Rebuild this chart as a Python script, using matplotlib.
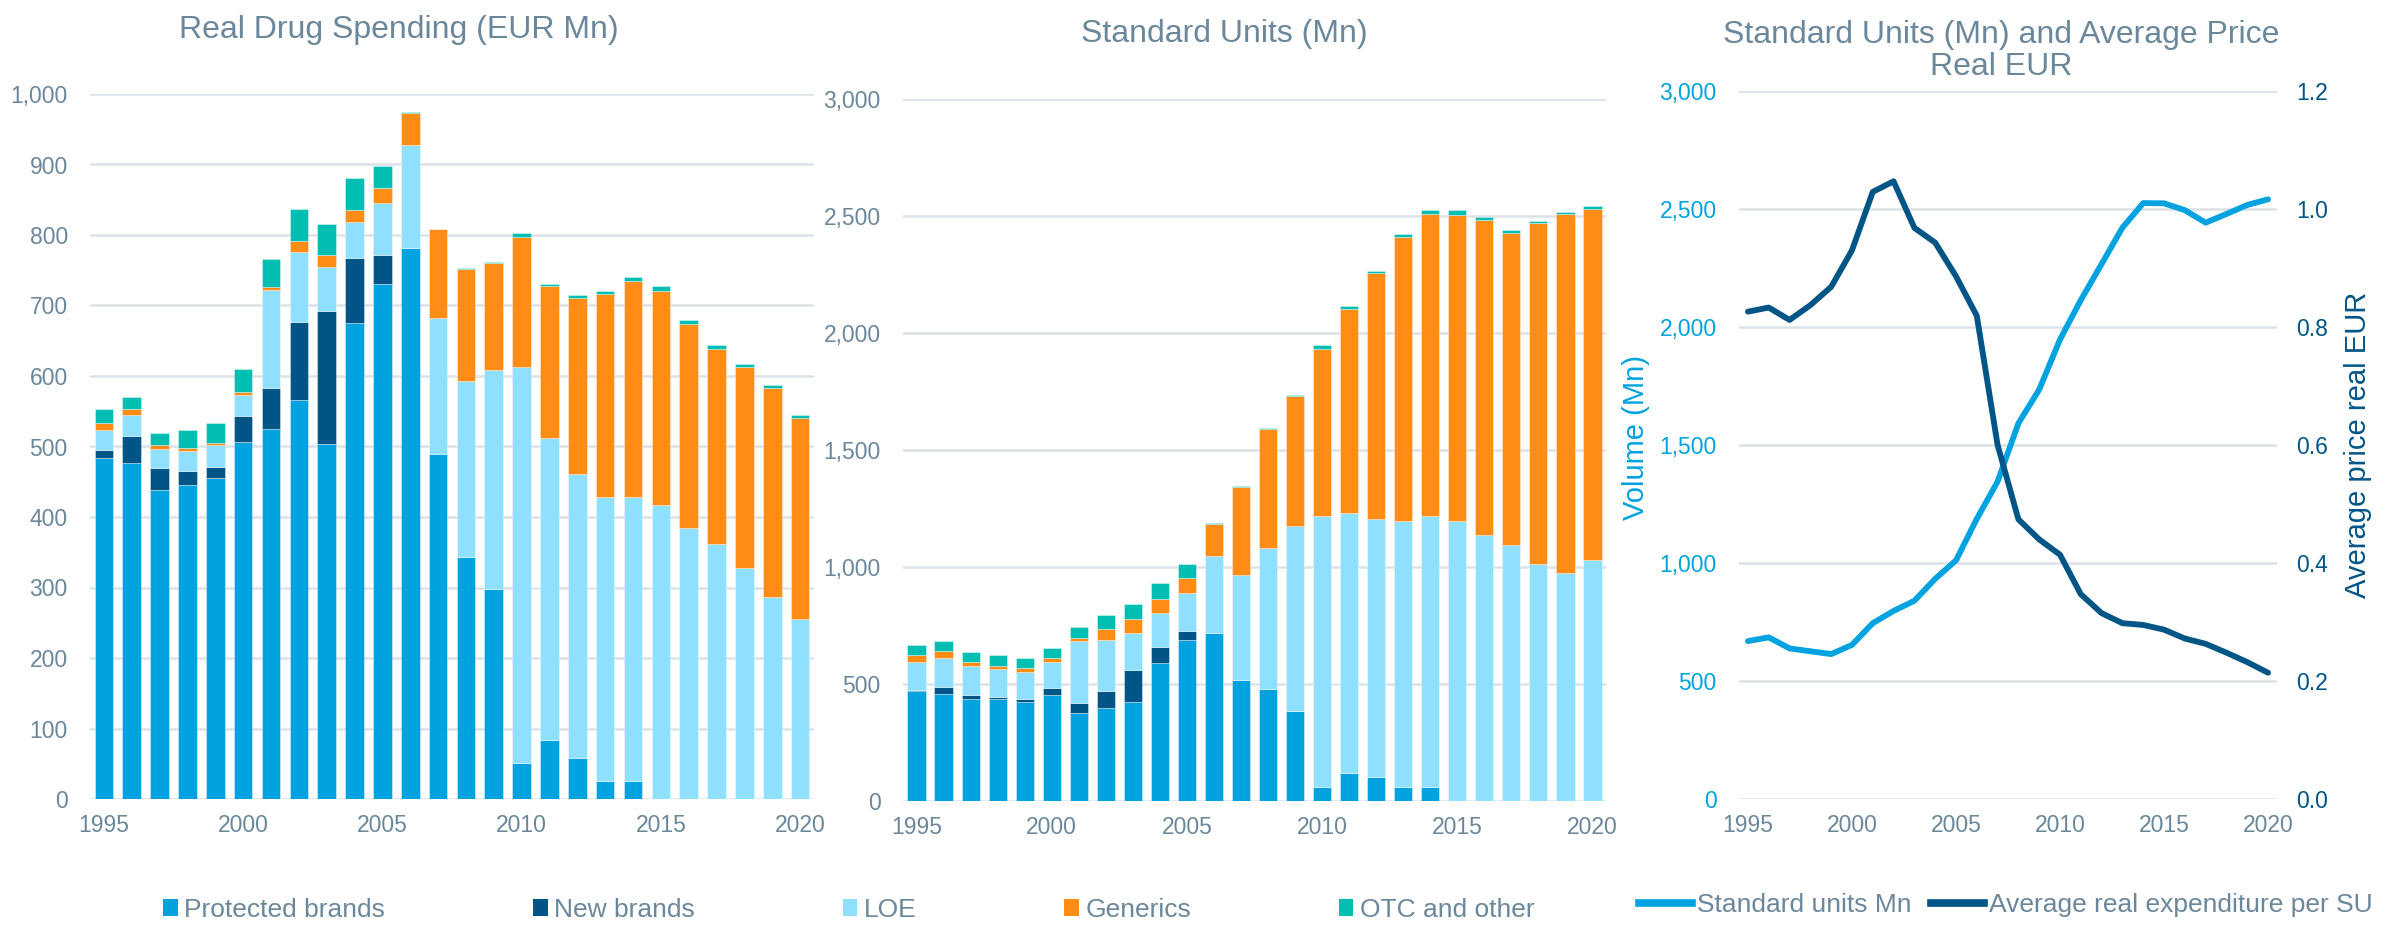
import matplotlib
matplotlib.use('Agg')
import matplotlib.pyplot as plt
import numpy as np
from matplotlib.patches import Patch
from matplotlib.lines import Line2D

plt.rcParams['font.family'] = ['Liberation Sans', 'DejaVu Sans']

years = list(range(1995, 2021))
tick_years = [1995, 2000, 2005, 2010, 2015, 2020]

# Real drug spending (EUR Mn)
spend_protected = [484, 477, 439, 445, 455, 506, 525, 566, 503, 675, 731, 782, 490, 343, 298,
                   51, 83, 58, 26, 25, 0, 0, 0, 0, 0, 0]
spend_new = [11, 38, 30, 20, 16, 37, 58, 111, 189, 93, 40, 0, 0, 0, 0,
             0, 0, 0, 0, 0, 0, 0, 0, 0, 0, 0]
spend_loe = [29, 30, 28, 29, 31, 30, 139, 99, 62, 50, 75, 146, 192, 250, 310,
             562, 429, 403, 403, 403, 417, 384, 361, 327, 286, 256]
spend_generics = [10, 8, 5, 4, 3, 4, 4, 16, 18, 17, 20, 45, 126, 159, 152,
                  184, 215, 250, 287, 307, 304, 290, 278, 286, 297, 284]
spend_otc = [19, 17, 17, 25, 28, 33, 40, 45, 44, 46, 32, 1, 1, 1, 1,
             6, 4, 4, 5, 6, 6, 6, 5, 4, 4, 4]

# Standard units (Mn)
su_protected = [469, 459, 434, 434, 425, 455, 377, 397, 421, 591, 686, 718, 516, 478, 384,
                61, 121, 104, 58, 58, 0, 0, 0, 0, 0, 0]
su_new = [6, 27, 21, 12, 9, 26, 42, 75, 137, 69, 39, 0, 0, 0, 0,
          0, 0, 0, 0, 0, 0, 0, 0, 0, 0, 0]
su_loe = [121, 127, 120, 116, 119, 115, 266, 218, 162, 145, 162, 328, 448, 605, 793,
          1159, 1109, 1099, 1137, 1159, 1198, 1136, 1094, 1011, 974, 1030]
su_generics = [26, 26, 21, 17, 15, 13, 13, 45, 56, 58, 67, 138, 377, 505, 555,
               712, 873, 1052, 1214, 1291, 1308, 1345, 1335, 1458, 1533, 1500]
su_otc = [46, 43, 42, 46, 44, 43, 45, 62, 64, 70, 57, 3, 4, 4, 3,
          15, 11, 12, 12, 17, 18, 14, 13, 10, 10, 11]

# Standard units line and average price per SU
units_mn = [669, 685, 638, 626, 614, 653, 745, 797, 840, 933, 1011, 1187, 1345, 1592, 1735,
            1947, 2114, 2267, 2421, 2525, 2524, 2495, 2442, 2479, 2517, 2541]
avg_price = [0.826, 0.833, 0.812, 0.837, 0.868, 0.930, 1.029, 1.047, 0.968, 0.943, 0.886,
             0.819, 0.600, 0.474, 0.440, 0.414, 0.347, 0.315, 0.298, 0.295, 0.287,
             0.272, 0.263, 0.248, 0.232, 0.214]

seg_names = ['Protected brands', 'New brands', 'LOE', 'Generics', 'OTC and other']
seg_colors = ['#00a3e0', '#005587', '#8fdfff', '#ff8c14', '#00bfb2']
text_col = '#6a879b'
grid_col = '#dce3e8'
light_blue = '#00a3e0'
dark_blue = '#005587'

W, H = 2382, 930
fig = plt.figure(figsize=(W / 100, H / 100), dpi=100)

def px_axes(x0, x1, ytop, ybot):
    return fig.add_axes([x0 / W, 1 - ybot / H, (x1 - x0) / W, (ybot - ytop) / H])

def style_axis(ax):
    for s in ax.spines.values():
        s.set_visible(False)
    ax.yaxis.grid(True, color=grid_col, linewidth=1.8)
    ax.set_axisbelow(True)
    ax.tick_params(length=0, labelsize=16.5, colors=text_col)
    ax.tick_params(axis='y', pad=16)
    ax.tick_params(axis='x', pad=11)

def stacked(ax, series, ymax, step):
    x = np.arange(len(years))
    bottom = np.zeros(len(years))
    for vals, col in zip(series, seg_colors):
        ax.bar(x, vals, bottom=bottom, width=0.67, color=col,
               edgecolor=(1, 1, 1, 0.45), linewidth=0.6)
        bottom += np.array(vals)
    ax.set_xlim(-0.5, len(years) - 0.5)
    ax.set_ylim(0, ymax)
    ax.set_yticks(np.arange(0, ymax + 1, step))
    ax.yaxis.set_major_formatter(matplotlib.ticker.FuncFormatter(lambda v, p: f'{int(v):,}'))
    ax.set_xticks([years.index(y) for y in tick_years])
    ax.set_xticklabels([str(y) for y in tick_years])
    style_axis(ax)

ax1 = px_axes(90, 814, 94, 799)
stacked(ax1, [spend_protected, spend_new, spend_loe, spend_generics, spend_otc], 1000, 100)

ax2 = px_axes(903, 1606, 99, 801)
stacked(ax2, [su_protected, su_new, su_loe, su_generics, su_otc], 3000, 500)

ax3 = px_axes(1739, 2277, 91, 799)
ax3b = ax3.twinx()
ax3.plot(years, units_mn, color=light_blue, linewidth=4.2, solid_capstyle='round')
ax3b.plot(years, avg_price, color=dark_blue, linewidth=4.2, solid_capstyle='round')
ax3.set_xlim(1994.57, 2020.43)
ax3.set_ylim(0, 3000)
ax3.set_yticks(np.arange(0, 3001, 500))
ax3.yaxis.set_major_formatter(matplotlib.ticker.FuncFormatter(lambda v, p: f'{int(v):,}'))
ax3b.set_ylim(0, 1.2)
ax3b.set_yticks(np.arange(0, 1.21, 0.2))
ax3b.yaxis.set_major_formatter(matplotlib.ticker.FormatStrFormatter('%.1f'))
ax3.set_xticks(tick_years)
style_axis(ax3)
ax3.tick_params(axis='y', colors=light_blue)
for s in ax3b.spines.values():
    s.set_visible(False)
ax3b.tick_params(length=0, labelsize=16.5, colors=dark_blue, pad=14)
ax3.set_ylabel('Volume (Mn)', color=light_blue, fontsize=21)
ax3.yaxis.set_label_coords(-0.165, 0.51)
ax3b.set_ylabel('Average price real EUR', color=dark_blue, fontsize=21, rotation=90)
ax3b.yaxis.set_label_coords(1.125, 0.5)

# titles
fig.text(399 / W, 1 - 30 / H, 'Real Drug Spending (EUR Mn)', ha='center', va='center',
         fontsize=23, color=text_col)
fig.text(1224 / W, 1 - 34 / H, 'Standard Units (Mn)', ha='center', va='center',
         fontsize=23, color=text_col)
fig.text(2001 / W, 1 - 51 / H, 'Standard Units (Mn) and Average Price\nReal EUR',
         ha='center', va='center', fontsize=23, color=text_col, linespacing=1.1)

# legends
handles = [Patch(facecolor=c, edgecolor='none') for c in seg_colors]
fig.legend(handles, seg_names, loc='center', bbox_to_anchor=(849 / W, 1 - 910 / H),
           ncol=5, frameon=False, fontsize=19, labelcolor=text_col,
           handlelength=0.55, handleheight=0.6, handletextpad=0.25, columnspacing=5.6)

line_handles = [Line2D([0], [0], color=light_blue, linewidth=5.5),
                Line2D([0], [0], color=dark_blue, linewidth=5.5)]
fig.legend(line_handles, ['Standard units Mn', 'Average real expenditure per SU'],
           loc='center', bbox_to_anchor=(2006 / W, 1 - 905 / H), ncol=2, frameon=False,
           fontsize=19, labelcolor=text_col, handlelength=2.0, handletextpad=0.2,
           columnspacing=0.75)

fig.savefig('out.png', dpi=100)
